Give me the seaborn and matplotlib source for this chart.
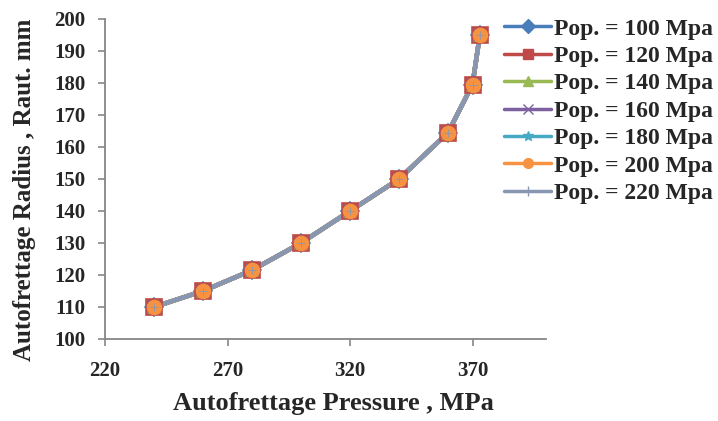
import matplotlib
matplotlib.use("Agg")
import matplotlib.pyplot as plt
from matplotlib.lines import Line2D
import pandas as pd
import seaborn as sns

# Autofrettage pressure (MPa) and resulting autofrettage radius (mm)
pressure = [240, 260, 280, 300, 320, 340, 360, 370, 373]
radius = [110, 115, 121.5, 130, 140, 150, 164.5, 179.5, 195]

# Operating pressures (one curve each; all curves coincide)
series_labels = ["Pop. = 100 Mpa", "Pop. = 120 Mpa", "Pop. = 140 Mpa",
                 "Pop. = 160 Mpa", "Pop. = 180 Mpa", "Pop. = 200 Mpa",
                 "Pop. = 220 Mpa"]
series_colors = ["#4A7EBB", "#BE4B48", "#98B954", "#7D60A0",
                 "#46AAC5", "#F69240", "#8797B2"]
series_markers = ["D", "s", "^", "x", "*", "o", "+"]
marker_sizes = [9, 11, 9, 9, 10, 10, 6]

x_ticks = [220, 270, 320, 370]
y_ticks = list(range(100, 201, 10))

frames = []
for lab in series_labels:
    frames.append(pd.DataFrame({"pressure": pressure, "radius": radius, "series": lab}))
df = pd.concat(frames, ignore_index=True)

sns.set_theme(style="white")
plt.rcParams["font.family"] = ["Liberation Serif", "DejaVu Serif"]
plt.rcParams["font.weight"] = "bold"

fig = plt.figure(figsize=(7.18, 4.21), dpi=100)
ax = fig.add_axes([105 / 718, 1 - 339 / 421, (546 - 105) / 718, (339 - 19) / 421])

# connecting lines first, markers drawn above them
for lab, col in zip(series_labels, series_colors):
    sub = df[df["series"] == lab]
    sns.lineplot(data=sub, x="pressure", y="radius", color=col, linewidth=3.2,
                 sort=False, ax=ax, legend=False, zorder=2, estimator=None)
for lab, col, mk, ms in zip(series_labels, series_colors, series_markers, marker_sizes):
    sub = df[df["series"] == lab]
    mew = 0.6 if mk == "+" else 1.2
    sns.lineplot(data=sub, x="pressure", y="radius", color=col, linestyle="",
                 marker=mk, markersize=ms, markeredgecolor=col, markeredgewidth=mew,
                 sort=False, ax=ax, legend=False, zorder=3, estimator=None)

ax.set_xlim(220, 400)
ax.set_ylim(100, 200)
ax.set_xticks(x_ticks)
ax.set_yticks(y_ticks)
ax.tick_params(axis="both", direction="out", length=5, width=1.2, color="#868686",
               labelsize=15, bottom=True, left=True)
ax.tick_params(axis="x", pad=11)
ax.tick_params(axis="y", pad=9)
for t in ax.get_xticklabels() + ax.get_yticklabels():
    t.set_fontweight("bold")
for side in ["top", "right"]:
    ax.spines[side].set_visible(False)
for side in ["left", "bottom"]:
    ax.spines[side].set_color("#868686")
    ax.spines[side].set_linewidth(1.3)
ax.grid(False)

ax.set_xlabel("Autofrettage Pressure , MPa", fontsize=19, fontweight="bold")
ax.set_ylabel("Autofrettage Radius , Raut. mm", fontsize=18, fontweight="bold")
ax.xaxis.set_label_coords(0.517, -0.165)
ax.yaxis.set_label_coords(-0.157, 0.466)

handles = [Line2D([0], [0], color=c, marker=m, markersize=7, linewidth=2.5,
                  markeredgecolor=c)
           for c, m in zip(series_colors, series_markers)]
fig.legend(handles, series_labels, loc="upper left",
           bbox_to_anchor=(504 / 718, 1 - 18 / 421), frameon=False,
           prop={"family": "Liberation Serif", "weight": "bold", "size": 17},
           handlelength=2.0, handletextpad=0.1, labelspacing=0.25,
           borderaxespad=0, borderpad=0)

fig.savefig("out.png", dpi=100, facecolor="white")
